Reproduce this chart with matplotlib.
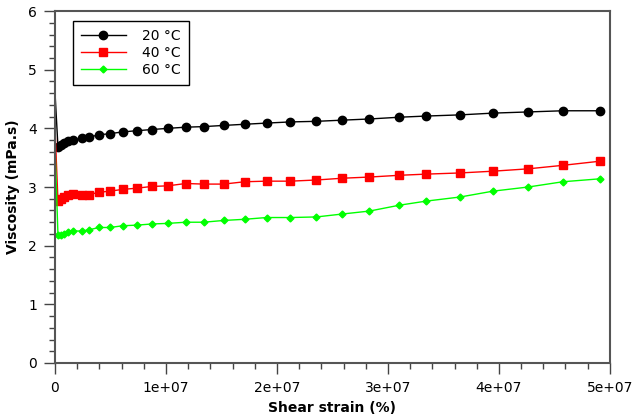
import numpy as np
import matplotlib
matplotlib.use("Agg")
import matplotlib.pyplot as plt
from matplotlib.ticker import MultipleLocator

# shear strain (%), first point is the start-up spike at 0
strain = [0, 0.27e6, 0.54e6, 0.81e6, 1.17e6, 1.62e6, 2.43e6, 3.06e6, 3.96e6,
          4.95e6, 6.12e6, 7.37e6, 8.72e6, 10.16e6, 11.78e6, 13.40e6, 15.2e6,
          17.09e6, 19.07e6, 21.22e6, 23.56e6, 25.90e6, 28.33e6, 31.03e6,
          33.45e6, 36.51e6, 39.48e6, 42.63e6, 45.77e6, 49.10e6]

visc_20 = [4.62, 3.68, 3.72, 3.75, 3.78, 3.80, 3.83, 3.85, 3.89, 3.91, 3.94,
           3.96, 3.98, 4.00, 4.02, 4.03, 4.05, 4.07, 4.09, 4.11, 4.12, 4.14,
           4.16, 4.19, 4.21, 4.23, 4.26, 4.28, 4.30, 4.30]
visc_40 = [4.02, 2.76, 2.80, 2.83, 2.87, 2.88, 2.87, 2.87, 2.91, 2.93, 2.96,
           2.98, 3.01, 3.02, 3.06, 3.05, 3.05, 3.09, 3.10, 3.10, 3.12, 3.15,
           3.17, 3.20, 3.22, 3.24, 3.27, 3.31, 3.37, 3.44]
visc_60 = [3.72, 2.18, 2.18, 2.20, 2.24, 2.25, 2.25, 2.27, 2.31, 2.31, 2.34,
           2.35, 2.37, 2.38, 2.40, 2.40, 2.43, 2.45, 2.48, 2.48, 2.49, 2.54,
           2.59, 2.69, 2.76, 2.83, 2.93, 3.00, 3.09, 3.14]

labels = ["20 °C", "40 °C", "60 °C"]
xticks = [0, 1e7, 2e7, 3e7, 4e7, 5e7]
xticklabels = ["0", "1e+07", "2e+07", "3e+07", "4e+07", "5e+07"]

fig = plt.figure(figsize=(6.43, 4.17), dpi=100)
ax = fig.add_axes([0.0855, 0.1295, 0.863, 0.844])

every = slice(1, None)  # no marker on the start-up spike
ax.plot(strain, visc_20, color="black", lw=1, marker="o", ms=6,
        markevery=every, label=labels[0])
ax.plot(strain, visc_40, color="#ff0000", lw=1, marker="s", ms=5.5,
        markevery=every, label=labels[1])
ax.plot(strain, visc_60, color="#00ff00", lw=1, marker="D", ms=3.5,
        markevery=every, label=labels[2])

ax.set_xlim(0, 5e7)
ax.set_ylim(0, 6)
ax.set_xticks(xticks)
ax.set_xticklabels(xticklabels)
ax.xaxis.set_minor_locator(MultipleLocator(2e6))
ax.yaxis.set_major_locator(MultipleLocator(1))
ax.yaxis.set_minor_locator(MultipleLocator(0.2))

ax.tick_params(which="major", direction="out", length=8, width=1,
               color="#444444", labelsize=10, pad=5)
ax.tick_params(which="minor", direction="out", length=4, width=1,
               color="#444444")
for s in ax.spines.values():
    s.set_color("#555555")
    s.set_linewidth(1.5)

ax.set_xlabel("Shear strain (%)", fontweight="bold", fontsize=10, labelpad=4)
ax.set_ylabel("Viscosity (mPa.s)", fontweight="bold", fontsize=10, labelpad=6)

leg = ax.legend(loc="upper left", bbox_to_anchor=(0.032, 0.972),
                fancybox=False, framealpha=1, edgecolor="black",
                fontsize=10, handlelength=3.2, borderpad=0.6,
                labelspacing=0.2, handletextpad=1.2, borderaxespad=0)
leg.get_frame().set_linewidth(1)

fig.savefig("out.png", dpi=100)
